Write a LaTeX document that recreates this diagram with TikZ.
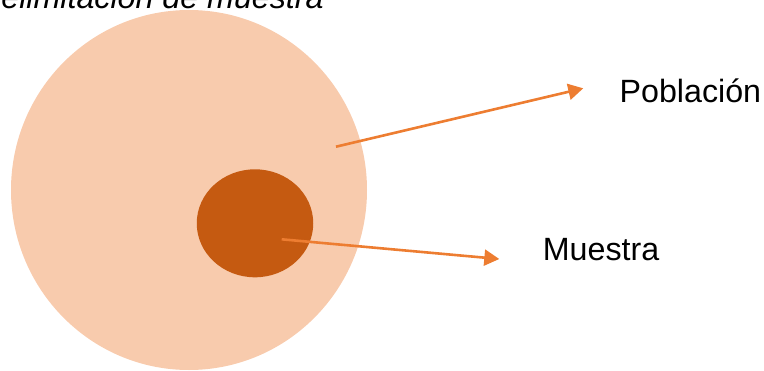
\documentclass[tikz,border=0pt]{standalone}
\usepackage{fontspec}
\setmainfont{Liberation Sans}
\usetikzlibrary{shapes.geometric,arrows.meta}
\definecolor{popfill}{HTML}{F8CBAD}
\definecolor{muefill}{HTML}{C55A11}
\definecolor{arrowc}{HTML}{ED7D31}
\tikzset{
  blob/.style={ellipse,draw=none,inner sep=0pt},
  lbl/.style={inner sep=0pt,anchor=base west,font=\fontsize{32.2}{36}\selectfont},
  pointer/.style={draw=arrowc,line width=2.6pt,-{Triangle[length=15pt,width=16pt]}}
}
\begin{document}
\begin{tikzpicture}[x=1pt,y=-1pt]
\useasboundingbox (0,0) rectangle (764,370);
\clip (0,0) rectangle (764,370);
\node[lbl,font=\fontsize{32.2}{36}\selectfont\itshape] (title) at (-22,8.5) {Delimitación de muestra};
\node[blob,fill=popfill,minimum width=356pt,minimum height=360pt] (pob) at (189,190) {};
\node[blob,fill=muefill,minimum width=116.5pt,minimum height=108pt] (mue) at (255,223.3) {};
\node[lbl] (tpob) at (619.5,102) {Población};
\node[lbl] (tmue) at (542.7,260) {Muestra};
\coordinate (s1) at (336,146.7);
\coordinate (e1) at (583.3,88.3);
\coordinate (s2) at (281.7,239.3);
\coordinate (e2) at (499.3,259);
\draw[pointer] (s1) -- (e1);
\draw[pointer] (s2) -- (e2);
\end{tikzpicture}
\end{document}
